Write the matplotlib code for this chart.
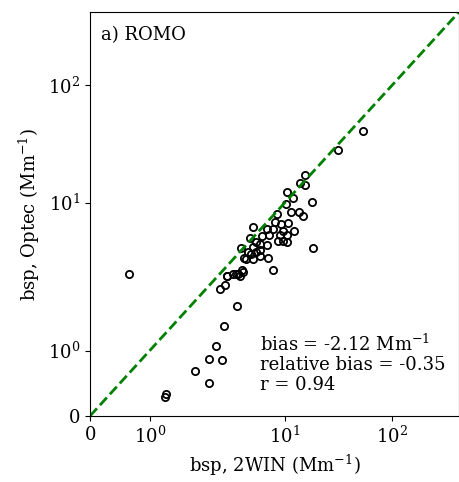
import numpy as np
import matplotlib
matplotlib.use('Agg')
import matplotlib.pyplot as plt
from matplotlib.ticker import NullLocator

plt.rcParams['font.family'] = 'serif'
plt.rcParams['font.serif'] = ['DejaVu Serif']
plt.rcParams['mathtext.fontset'] = 'dejavuserif'

# bsp values (Mm^-1)
bsp_2win = [53.7, 31.0, 15.4, 13.9, 15.5, 10.4, 12.0, 18.0, 10.3, 11.4,
            13.6, 14.7, 8.4, 8.1, 9.2, 10.8, 5.1, 6.8, 7.8, 9.7,
            12.2, 6.2, 7.2, 4.7, 9.0, 10.4, 9.7, 8.7, 10.4, 5.4,
            5.9, 6.8, 3.9, 5.1, 18.2, 5.9, 5.4, 4.5, 4.9, 5.9,
            7.0, 4.4, 5.1, 4.2, 7.8, 3.3, 3.7, 4.0, 2.9, 3.8,
            0.66, 2.9, 3.5, 4.1, 2.8, 2.5, 3.6, 2.7, 2.3, 1.99,
            2.6, 1.76, 1.99, 1.27, 1.25]
bsp_optec = [40.9, 28.0, 17.2, 14.6, 14.2, 12.4, 11.0, 10.2, 9.7, 8.3,
             8.4, 7.7, 8.0, 6.9, 6.6, 6.7, 6.2, 6.0, 6.0, 5.8,
             5.8, 5.2, 5.3, 5.0, 5.3, 5.3, 4.7, 4.7, 4.6, 4.6,
             4.5, 4.4, 4.1, 4.2, 4.1, 4.0, 3.8, 3.8, 3.7, 3.5,
             3.4, 3.3, 3.3, 3.4, 2.7, 2.5, 2.5, 2.7, 2.4, 2.4,
             2.5, 2.4, 2.5, 2.6, 2.0, 1.94, 1.68, 1.38, 1.07, 0.87,
             0.85, 0.69, 0.51, 0.33, 0.29]

site_label = 'a) ROMO'
stats_text = 'bias = -2.12 Mm$^{-1}$\nrelative bias = -0.35\nr = 0.94'
lim = 415

fig = plt.figure(figsize=(4.6, 4.82), dpi=100)
ax = fig.add_axes([90 / 460, 66 / 482, 369 / 460, 404 / 482])

ax.plot(bsp_2win, bsp_optec, 'o', mfc='none', mec='k', ms=5.2, mew=1.3)
ax.plot([0, lim], [0, lim], '--', color='green', lw=2)

ax.set_xscale('symlog', linthresh=2)
ax.set_yscale('symlog', linthresh=2)
ax.set_xlim(0, lim)
ax.set_ylim(0, lim)
ax.xaxis.set_minor_locator(NullLocator())
ax.yaxis.set_minor_locator(NullLocator())
ax.tick_params(labelsize=13)

ax.set_xlabel('bsp, 2WIN (Mm$^{-1}$)', fontsize=13)
ax.set_ylabel('bsp, Optec (Mm$^{-1}$)', fontsize=13)
ax.text(0.03, 0.965, site_label, transform=ax.transAxes, fontsize=13, va='top')
ax.text(0.46, 0.055, stats_text, transform=ax.transAxes, fontsize=13,
        va='bottom', linespacing=1.12)

fig.savefig('out.png', dpi=100)
